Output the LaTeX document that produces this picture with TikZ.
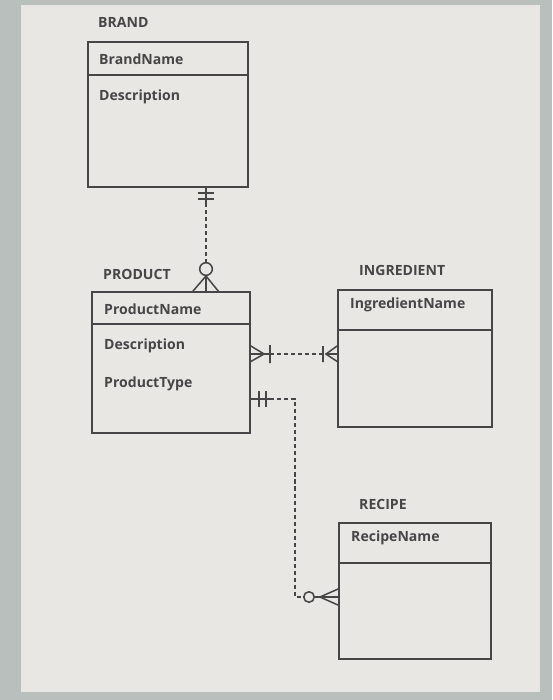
\documentclass[tikz,border=0pt]{standalone}
\usepackage{fontspec}
\setmainfont{Open Sans}
\usetikzlibrary{fit}
\definecolor{screen}{RGB}{233,231,228}
\definecolor{bezel}{RGB}{184,191,189}
\definecolor{ink}{RGB}{70,70,70}
\begin{document}
\begin{tikzpicture}[x=0.03cm, y=-0.03cm,
                    every node/.style={font=\fontsize{12}{14}\selectfont\bfseries, text=ink},
                    entity/.style={draw=ink, line width=1.6pt, inner sep=0pt},
                    attr/.style={anchor=west, inner sep=0pt},
                    rel/.style={draw=ink, line width=1.3pt},
                    reldash/.style={rel, dash pattern=on 3.5pt off 2.5pt}
                ]
                \useasboundingbox (0,0) rectangle (552,700);
                \fill[bezel] (0,0) rectangle (552,700);
                \fill[screen] (21,5) rectangle (540,692);

                % entities
                \node[entity, fit={(88,42) (248,75)}] (brandhead) {};
                \node[entity, fit={(88,75) (248,187)}] (brandbody) {};
                \node[entity, fit={(92,292) (250,324)}] (prodhead) {};
                \node[entity, fit={(92,324) (250,433)}] (prodbody) {};
                \node[entity, fit={(338,290) (492,330)}] (ingrhead) {};
                \node[entity, fit={(338,330) (492,427)}] (ingrbody) {};
                \node[entity, fit={(339,523) (491,563)}] (recihead) {};
                \node[entity, fit={(339,563) (491,659)}] (recibody) {};

                % titles and attributes
                \node[attr] (brandtitle) at (98,22) {BRAND};
                \node[attr] (brandname) at (99,59) {BrandName};
                \node[attr] (branddesc) at (99,97) {Description};
                \node[attr] (prodtitle) at (103,274) {PRODUCT};
                \node[attr] (prodname) at (104,309) {ProductName};
                \node[attr] (proddesc) at (104,346) {Description};
                \node[attr] (prodtype) at (104,384) {ProductType};
                \node[attr] (ingrtitle) at (359,270) {INGREDIENT};
                \node[attr] (ingrname) at (350,305) {IngredientName};
                \node[attr] (recititle) at (359,504) {RECIPE};
                \node[attr] (reciname) at (351,538) {RecipeName};

                % BRAND -- PRODUCT
                \coordinate (bp1) at (206,0 |- brandbody.south);
                \coordinate (bp2) at (206,0 |- prodhead.north);
                \draw[rel] (bp1) -- ++(0,16)
                    (198,193) -- (214,193)
                    (198,199) -- (214,199);
                \draw[reldash] (206,203) -- (206,263);
                \draw[rel] (206,269) circle[radius=5.4pt];
                \draw[rel] (bp2) ++(-13,0) -- (206,276) -- ++(13,16)
                    (206,276) -- (bp2);

                % PRODUCT -- INGREDIENT
                \coordinate (pi1) at (prodbody.east |- 0,354);
                \coordinate (pi2) at (ingrbody.west |- 0,354);
                \draw[rel] (pi1) ++(0,-8) -- (264,354) -- ++(-14,8)
                    (pi1) -- (270,354)
                    (270,345) -- (270,363);
                \draw[reldash] (270,354) -- (323,354);
                \draw[rel] (323,346) -- (323,362)
                    (pi2) ++(0,-8) -- (326,354) -- ++(12,8)
                    (326,354) -- (pi2);

                % PRODUCT -- RECIPE
                \coordinate (pr1) at (prodbody.east |- 0,399);
                \coordinate (pr2) at (recibody.west |- 0,597);
                \draw[rel] (pr1) -- (270,399)
                    (259,391) -- (259,407)
                    (266,391) -- (266,407);
                \draw[reldash] (270,399) -- (295,399) -- (295,597) -- (304,597);
                \draw[rel] (309,597) circle[radius=4.5pt];
                \draw[rel] (pr2) ++(0,-8) -- (320,597) -- ++(18,8)
                    (314,597) -- (pr2);
            \end{tikzpicture}
\end{document}
